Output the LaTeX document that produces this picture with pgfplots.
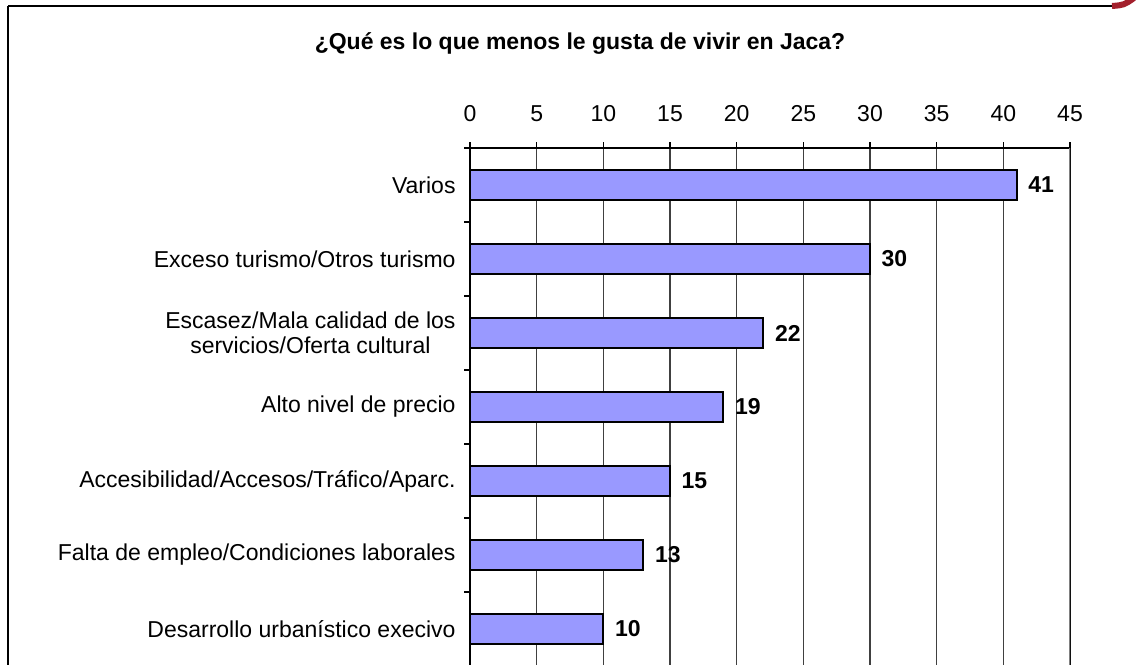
\documentclass[border=0pt]{standalone}
\usepackage{fontspec}
\setmainfont{Liberation Sans}
\usepackage{pgfplots}
\pgfplotsset{compat=1.18}
\definecolor{barblue}{HTML}{9999FF}
\definecolor{logored}{HTML}{A3202C}

\begin{document}
\begin{tikzpicture}
\useasboundingbox (0,0) rectangle (569pt,-332pt);
\clip (0,0) rectangle (569pt,-332pt);
\fill[white] (0,0) rectangle (569pt,-332pt);

% frame and logo bits (pixel units)
\begin{scope}[x=0.5pt,y=-0.5pt]
\draw[line width=1pt] (8,6) -- (1112,6);
\draw[line width=1pt] (8,6) -- (8,700);
\draw[logored, line width=3pt] (1112,6) .. controls (1124,5) .. (1134,-2);
\node[font=\fontsize{11.5}{13}\selectfont\bfseries, anchor=base] at (580,49)
  {¿Qué es lo que menos le gusta de vivir en Jaca?};
\end{scope}

\begin{axis}[
    at={(235pt,-74pt)}, anchor=north west,
    scale only axis,
    width=300pt, height=259pt,
    xbar, bar width=15pt,
    xmin=0, xmax=45,
    ymin=-0.5, ymax=6.5,
    y dir=reverse,
    xtick={0,5,...,45},
    minor xtick={0,5,...,45},
    xtick pos=right, xticklabel pos=right,
    ytick={0,1,2,3,4,5,6},
    minor ytick={-0.5,0.5,1.5,2.5,3.5,4.5,5.5,6.5},
    ytick pos=left,
    yticklabels={Varios, Exceso turismo/Otros turismo,
        {Escasez/Mala calidad de los\\servicios/Oferta cultural},
        Alto nivel de precio, Accesibilidad/Accesos/Tráfico/Aparc.,
        Falta de empleo/Condiciones laborales, Desarrollo urbanístico execivo},
    tick align=outside,
    major tick length=0pt,
    minor tick length=3pt,
    tick style={black, line width=0.6pt},
    xmajorgrids,
    major grid style={black!75, line width=0.6pt},
    axis line style={black, line width=0.8pt},
    /pgf/number format/assume math mode=true,
    ticklabel style={font=\fontsize{11.5}{12.5}\selectfont},
    xticklabel style={yshift=9.5pt},
    yticklabel style={align=center, xshift=-3.7pt},
    nodes near coords,
    nodes near coords style={font=\fontsize{11.5}{13}\selectfont\bfseries, anchor=west, xshift=2pt},
]
\addplot[fill=barblue, draw=black, line width=1pt] coordinates {
    (41,0) (30,1) (22,2) (19,3) (15,4) (13,5) (10,6)
};
\draw[gray, line width=1pt] (rel axis cs:1,0) -- (rel axis cs:1,1);
\end{axis}
\end{tikzpicture}
\end{document}
